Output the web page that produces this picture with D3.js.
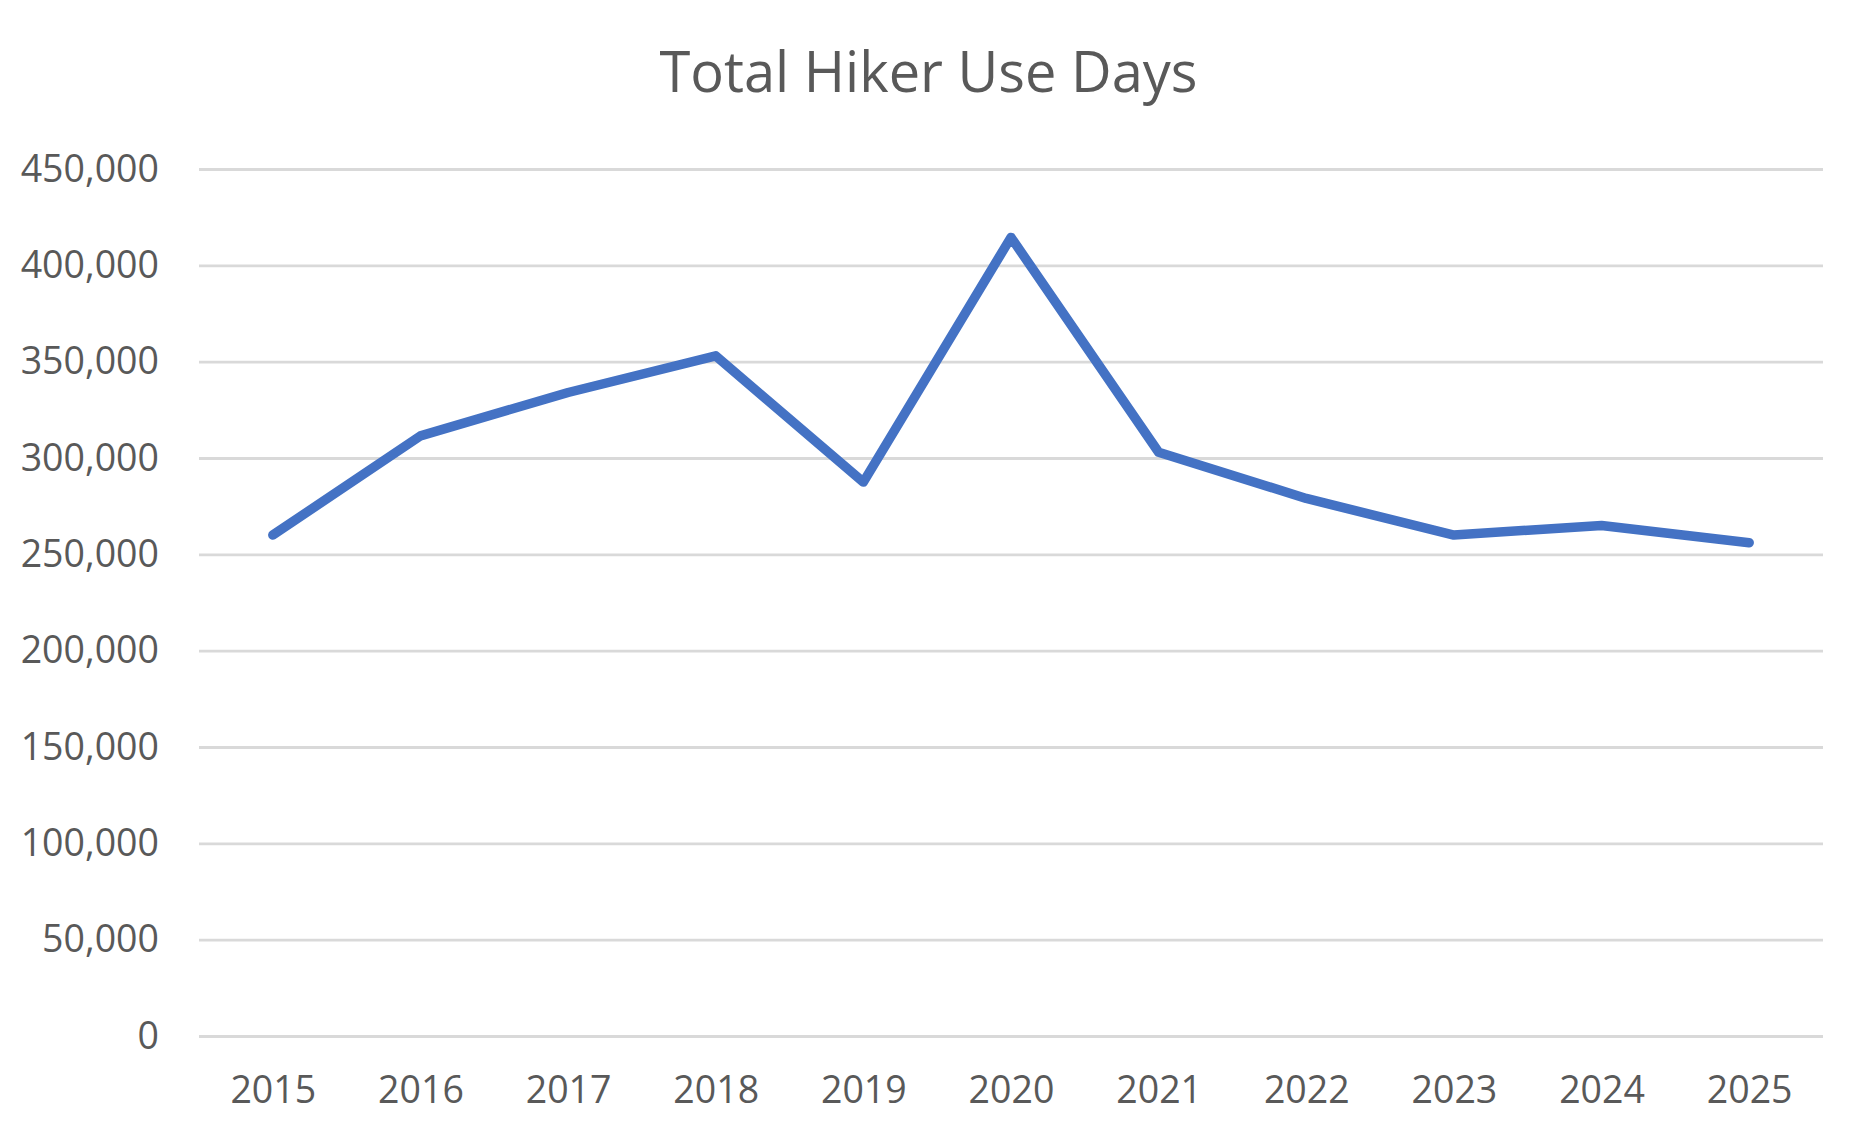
<!DOCTYPE html>
<html>
<head>
<meta charset="utf-8">
<script src="https://cdn.jsdelivr.net/npm/d3@7"></script>
<style>
  html, body { margin: 0; padding: 0; background: #fff; }
  svg { display: block; }
  .tick text { fill: #595959; font-family: "Open Sans", sans-serif; }
</style>
</head>
<body>
<div id="chart"></div>
<script>
// Total Hiker Use Days
const W = 1857
const H = 1132

const years = ["2015", "2016", "2017", "2018", "2019", "2020", "2021", "2022", "2023", "2024", "2025"]
const hikerDays = [260000, 311500, 334000, 353000, 287500, 414500, 303000, 279000, 260000, 265000, 256000]
const yTicks = [0, 50000, 100000, 150000, 200000, 250000, 300000, 350000, 400000, 450000]
const titleText = "Total Hiker Use Days"

const plotLeft = 199, plotRight = 1823, plotTop = 169, plotBottom = 1036

const svg = d3.select("#chart")
  .append("svg")
  .attr("width", W)
  .attr("height", H)

const x = d3.scalePoint()
  .domain(years)
  .range([plotLeft, plotRight])
  .padding(0.5)

const y = d3.scaleLinear()
  .domain([0, 450000])
  .range([plotBottom, plotTop])

// gridlines + y labels
const yAxis = svg.append("g")
  .attr("transform", "translate(" + plotLeft + ",0)")
  .call(d3.axisLeft(y)
    .tickValues(yTicks)
    .tickFormat(d3.format(","))
    .tickSize(-(plotRight - plotLeft))
    .tickPadding(40))

yAxis.select(".domain").remove()
yAxis.selectAll(".tick line")
  .attr("stroke", "#d9d9d9")
  .attr("stroke-width", 2.8)
yAxis.selectAll(".tick text")
  .style("font-size", "37.5px")

// x labels
const xAxis = svg.append("g")
  .attr("transform", "translate(0," + plotBottom + ")")
  .call(d3.axisBottom(x).tickSize(0).tickPadding(40))

xAxis.select(".domain").remove()
xAxis.selectAll(".tick text")
  .style("font-size", "37.5px")

// the line
const line = d3.line()
  .x((d, i) => x(years[i]))
  .y(d => y(d))

svg.append("path")
  .datum(hikerDays)
  .attr("d", line)
  .style("fill", "none")
  .style("stroke", "#4472c4")
  .style("stroke-width", 9.5)
  .style("stroke-linejoin", "round")
  .style("stroke-linecap", "round")

svg.append("text")
  .attr("x", W / 2)
  .attr("y", 92)
  .attr("text-anchor", "middle")
  .style("font-family", "'Open Sans', sans-serif")
  .style("font-size", "56px")
  .style("fill", "#595959")
  .text(titleText)
</script>
</body>
</html>
